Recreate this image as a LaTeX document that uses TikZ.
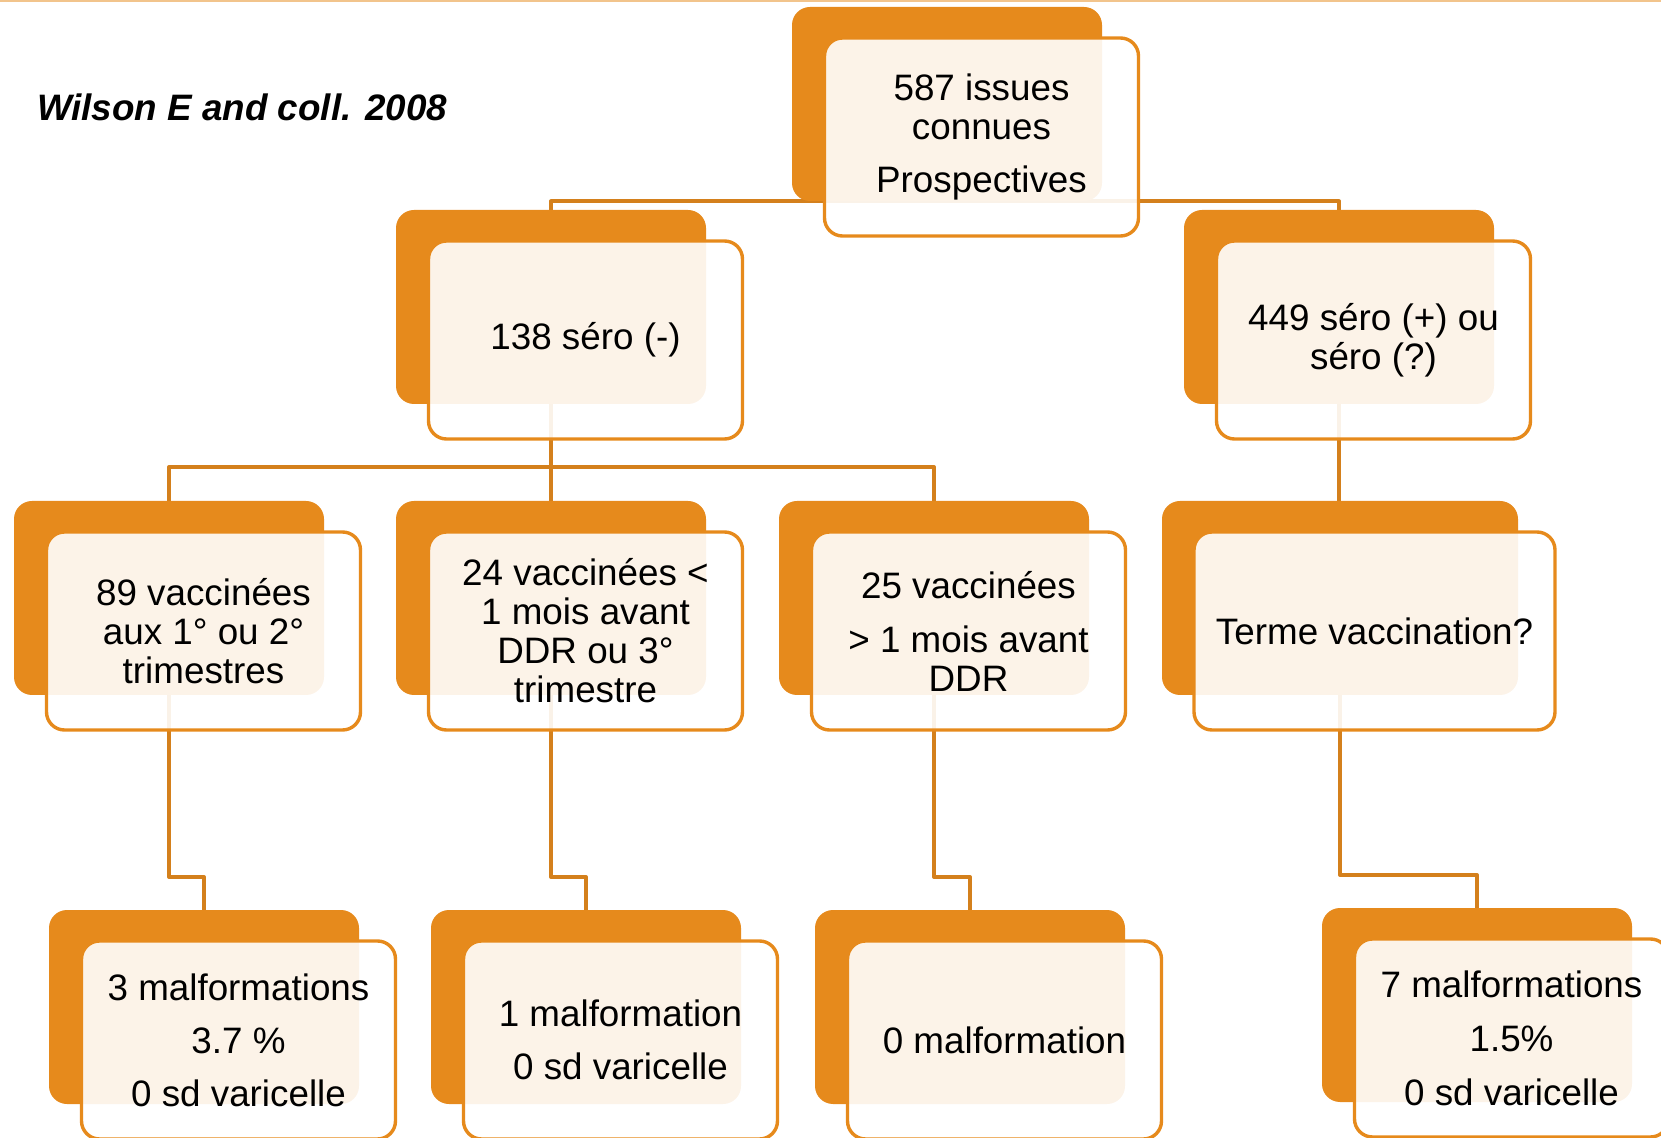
\documentclass[tikz,border=0pt]{standalone}
\usepackage{fontspec}
\setmainfont{Liberation Sans}
\usetikzlibrary{backgrounds}
\definecolor{boxorange}{HTML}{E68A1C}
\definecolor{linkorange}{HTML}{D4801C}
\definecolor{rulecolor}{HTML}{F2C48C}
\newcommand{\diagfont}{\fontsize{18.4}{19.5}\selectfont}
\tikzstyle{backbox} = [rectangle, rounded corners=9pt, minimum width=155pt, minimum height=97pt, fill=boxorange, draw=none]
\tikzstyle{frontbox} = [rectangle, rounded corners=9pt, minimum width=157pt, minimum height=99pt, draw=boxorange, line width=1.7pt, fill=white, fill opacity=0.9, text opacity=1, align=center, font=\diagfont]
\tikzstyle{widebackbox} = [backbox, minimum width=178pt]
\tikzstyle{widefrontbox} = [frontbox, minimum width=180.5pt]
\tikzstyle{link} = [draw=linkorange, line width=2pt, line join=round]

\begin{document}
\begin{tikzpicture}[x=0.5pt, y=-0.5pt]
    \useasboundingbox (0,0) rectangle (1661,1138);
    \draw[rulecolor, line width=1pt] (0,1) -- (1661,1);

    \node(source)[anchor=west, font=\diagfont\bfseries\itshape] at (30,107) {Wilson E and coll. 2008};

    \node(issuesbg)[backbox] at (947,104) {};
    \node(issues)[frontbox, at=(issuesbg.center), xshift=17.25pt, yshift=-16.5pt]{587 issues\\connues\\[7pt]Prospectives};

    \node(seronegbg)[backbox] at (551,307) {};
    \node(seroneg)[frontbox, at=(seronegbg.center), xshift=17.25pt, yshift=-16.5pt]{138 séro (-)};
    \node(seroposbg)[backbox] at (1339,307) {};
    \node(seropos)[frontbox, at=(seroposbg.center), xshift=17.25pt, yshift=-16.5pt]{449 séro (+) ou\\séro (?)};

    \node(vacc1bg)[backbox] at (169,598) {};
    \node(vacc1)[frontbox, at=(vacc1bg.center), xshift=17.25pt, yshift=-16.5pt]{89 vaccinées\\aux 1° ou 2°\\trimestres};
    \node(vacc2bg)[backbox] at (551,598) {};
    \node(vacc2)[frontbox, at=(vacc2bg.center), xshift=17.25pt, yshift=-16.5pt]{24 vaccinées <\\1 mois avant\\DDR ou 3°\\trimestre};
    \node(vacc3bg)[backbox] at (934,598) {};
    \node(vacc3)[frontbox, at=(vacc3bg.center), xshift=17.25pt, yshift=-16.5pt]{25 vaccinées\\[7.5pt]> 1 mois avant\\DDR};
    \node(termebg)[widebackbox] at (1340,598) {};
    \node(terme)[widefrontbox, at=(termebg.center), xshift=17.25pt, yshift=-16.5pt]{Terme vaccination?};

    \node(malf1bg)[backbox] at (204,1007) {};
    \node(malf1)[frontbox, at=(malf1bg.center), xshift=17.25pt, yshift=-16.5pt]{3 malformations\\[7pt]3.7 \%\\[7pt]0 sd varicelle};
    \node(malf2bg)[backbox] at (586,1007) {};
    \node(malf2)[frontbox, at=(malf2bg.center), xshift=17.25pt, yshift=-16.5pt]{1 malformation\\[7pt]0 sd varicelle};
    \node(malf3bg)[backbox] at (970,1007) {};
    \node(malf3)[frontbox, at=(malf3bg.center), xshift=17.25pt, yshift=-16.5pt]{0 malformation};
    \node(malf4bg)[backbox] at (1477,1005) {};
    \node(malf4)[frontbox, at=(malf4bg.center), xshift=17.25pt, yshift=-16.5pt]{7 malformations\\[7.5pt]1.5\%\\[7.5pt]0 sd varicelle};

    \begin{scope}[on background layer]
        \draw[link] (seronegbg.center) |- (issuesbg.south) -| (seroposbg.center);
        \draw[link] (seronegbg.center) -- (vacc2bg.center);
        \draw[link] (vacc1bg.center) -- ++(0,-131) -| (vacc3bg.center);
        \draw[link] (seroposbg.center) -- (seroposbg.center |- termebg.center);

        \draw[link] (vacc1bg.center) -- ++(0,279) -| (malf1bg.center);
        \draw[link] (vacc2bg.center) -- ++(0,279) -| (malf2bg.center);
        \draw[link] (vacc3bg.center) -- ++(0,279) -| (malf3bg.center);
        \draw[link] (termebg.center) -- ++(0,277) -| (malf4bg.center);
    \end{scope}
\end{tikzpicture}
\end{document}
